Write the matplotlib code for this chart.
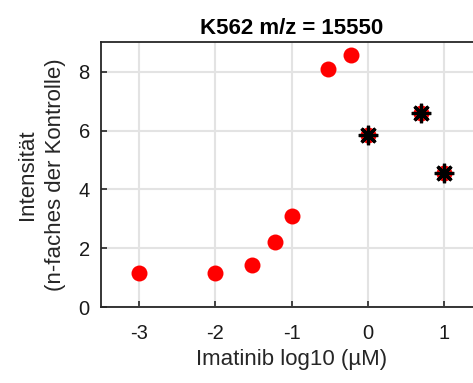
import numpy as np
import matplotlib.pyplot as plt

plt.rcParams['font.family'] = ['Liberation Sans', 'DejaVu Sans']
plt.rcParams['axes.unicode_minus'] = False

# Imatinib concentration (log10 uM) and intensity (fold of control)
log_conc = [-3.0, -2.0, -1.52, -1.22, -1.0, -0.52, -0.22, 0.0, 0.70, 1.0]
intensity = [1.18, 1.18, 1.45, 2.21, 3.09, 8.09, 8.58, 5.85, 6.60, 4.56]
# points additionally flagged with an asterisk
flag_conc = [0.0, 0.70, 1.0]
flag_int = [5.85, 6.60, 4.56]

fig = plt.figure(figsize=(4.73, 3.83), dpi=100)
ax = fig.add_axes([0.2135, 0.1977, 0.806, 0.692])

ax.plot(log_conc, intensity, linestyle='None', marker='o', color='red',
        markersize=11.5, markeredgewidth=0, zorder=3)
ax.plot(flag_conc, flag_int, linestyle='None', marker=(8, 2, 0), color='black',
        markersize=14, markeredgewidth=2.3, zorder=4)

ax.set_xlim(-3.5, 1.5)
ax.set_ylim(0, 9)
ax.set_xticks([-3, -2, -1, 0, 1])
ax.set_yticks([0, 2, 4, 6, 8])
ax.grid(True, color='#e3e3e3', linewidth=1.5)
ax.set_axisbelow(True)
ax.tick_params(direction='in', length=4, width=1.2, color='#262626',
               labelsize=14.5, labelcolor='#1a1a1a')
ax.tick_params(axis='x', pad=12)
ax.tick_params(axis='y', pad=8)
for s in ax.spines.values():
    s.set_color('#262626')
    s.set_linewidth(1.3)

ax.set_title('K562 m/z = 15550', fontsize=16, fontweight='bold', pad=6)
ax.set_xlabel('Imatinib log10 (µM)', fontsize=16, color='#262626', labelpad=4)
ax.set_ylabel('Intensität\n(n-faches der Kontrolle)', fontsize=16,
              color='#262626', labelpad=9, linespacing=1.45)

fig.savefig('out.png', dpi=100)
